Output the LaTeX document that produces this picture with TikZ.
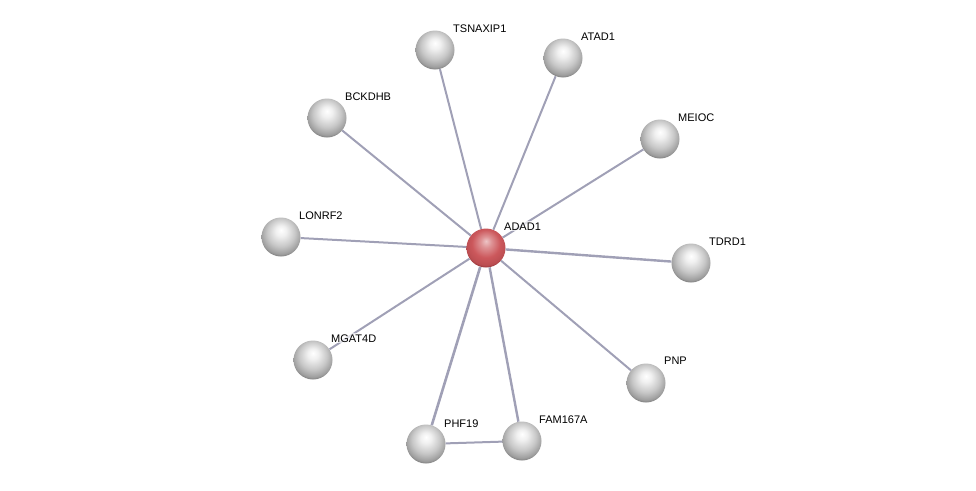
\documentclass[tikz,border=0pt]{standalone}
\usepackage{fontspec}
\setmainfont{Liberation Sans}
\definecolor{edgegrey}{RGB}{160,160,182}
\definecolor{redbody}{RGB}{204,88,92}
\definecolor{redrim}{RGB}{120,35,40}
\pgfdeclareradialshading{greyball}{\pgfpoint{0bp}{9bp}}{color(0bp)=(white); color(7bp)=(white!94!black); color(18bp)=(white!78!black); color(26bp)=(white!62!black); color(31bp)=(white!40!black); color(50bp)=(white!40!black)}
\pgfdeclareradialshading{redball}{\pgfpoint{0bp}{9bp}}{color(0bp)=(white!65!redbody); color(7bp)=(white!35!redbody); color(18bp)=(redbody); color(26bp)=(redbody!80!redrim); color(31bp)=(redrim); color(50bp)=(redrim)}
\tikzset{
  protein/.style={circle, minimum size=39pt, inner sep=0pt, shading=greyball},
  query/.style={circle, minimum size=39pt, inner sep=0pt, shading=redball},
  genename/.style={anchor=base west, inner sep=1pt, fill=white, fill opacity=0.7, text opacity=1, font=\fontsize{11}{13}\selectfont},
  link/.style={draw=edgegrey, line width=2pt}
}
\begin{document}
\begin{tikzpicture}[x=1pt,y=-1pt]
\useasboundingbox (0,0) rectangle (976,490);
\node[query] (adad1) at (486,248) {};
\node[protein] (tsnaxip1) at (435,50) {};
\node[protein] (atad1) at (563,58) {};
\node[protein] (bckdhb) at (327,118) {};
\node[protein] (meioc) at (660,139) {};
\node[protein] (lonrf2) at (281,237) {};
\node[protein] (tdrd1) at (691,263) {};
\node[protein] (mgat4d) at (313,360) {};
\node[protein] (pnp) at (646,383) {};
\node[protein] (phf19) at (426,444) {};
\node[protein] (fam167a) at (522,441) {};

\draw[link] (adad1) -- (tsnaxip1);
\draw[link] (adad1) -- (atad1);
\draw[link] (adad1) -- (bckdhb);
\draw[link] (adad1) -- (meioc);
\draw[link] (adad1) -- (lonrf2);
\draw[link, line width=2.4pt] (adad1) -- (tdrd1);
\draw[link] (adad1) -- (mgat4d);
\draw[link] (adad1) -- (pnp);
\draw[link, line width=2.6pt] (adad1) -- (phf19);
\draw[link, line width=2.4pt] (adad1) -- (fam167a);
\draw[link] (phf19) -- (fam167a);

\node[genename] (adad1-l) at (503,230) {ADAD1};
\node[genename] (tsnaxip1-l) at (452,32) {TSNAXIP1};
\node[genename] (atad1-l) at (580,40) {ATAD1};
\node[genename] (bckdhb-l) at (344,100) {BCKDHB};
\node[genename] (meioc-l) at (677,121) {MEIOC};
\node[genename] (lonrf2-l) at (298,219) {LONRF2};
\node[genename] (tdrd1-l) at (708,245) {TDRD1};
\node[genename] (mgat4d-l) at (330,342) {MGAT4D};
\node[genename] (pnp-l) at (663,364) {PNP};
\node[genename] (phf19-l) at (443,427) {PHF19};
\node[genename] (fam167a-l) at (538,423) {FAM167A};
\end{tikzpicture}
\end{document}
